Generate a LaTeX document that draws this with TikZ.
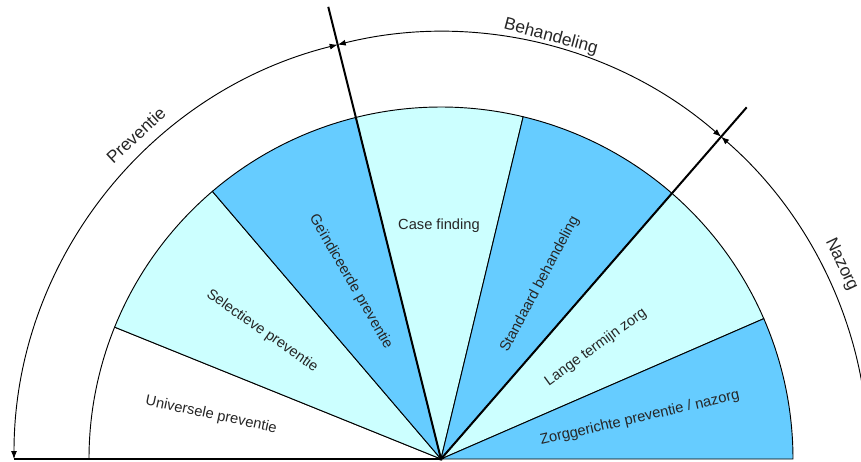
\documentclass[tikz,border=0pt]{standalone}
\usepackage{fontspec}
\setmainfont{Liberation Sans}
\usetikzlibrary{arrows.meta}
\definecolor{lichtblauw}{HTML}{CCFFFF}
\definecolor{blauw}{HTML}{66CCFF}

\tikzset{sector/.style = {draw, line width=0.7pt},
         scheiding/.style = {line width=1.5pt},
         fase/.style = {line width=0.7pt, {Latex[length=6pt,width=4.5pt]}-{Latex[length=6pt,width=4.5pt]}},
         faselabel/.style = {font=\fontsize{13}{16}\selectfont, text=black!85, inner sep=0pt},
         sectorlabel/.style = {font=\fontsize{11}{13}\selectfont, text=black!85, inner sep=0pt}
        }

\begin{document}
\begin{tikzpicture}[x=0.75pt, y=0.75pt]
\useasboundingbox (-441,-2) rectangle (420,459);
\coordinate (o) at (0,0);
\foreach \a/\b/\kleur in {180/158/white, 158/130.5/lichtblauw, 130.5/104/blauw, 104/76.5/lichtblauw, 76.5/49/blauw, 49/23.5/lichtblauw, 23.5/0/blauw}
   \filldraw[sector, fill=\kleur] (o) -- (\a:352) arc (\a:\b:352) -- cycle;
\foreach \n/\a/\r in {links/180/427, grens1/104/466, grens2/49/466}
   {\coordinate (\n) at (\a:\r);
    \draw[scheiding] (o) -- (\n);};
\foreach \a/\b in {180/104, 104/49, 49/0}
   \draw[fase] (\a:427) arc (\a:\b:427);
\foreach \n/\a/\r/\rot/\t in {preventie/133.3/445/43/Preventie, behandeling/75.4/436/-15/Behandeling, nazorg/25.9/445/-64.6/Nazorg}
   \node[faselabel, rotate=\rot] (\n) at (\a:\r) {\t};
\foreach \n/\a/\r/\rot/\t in {universeel/169.2/234/-12/Universele preventie, selectief/144.4/220/-35/Selectieve preventie, geindiceerd/117/199/-60/Geïndiceerde preventie, casefinding/90.5/233/0/Case finding, standaard/60.5/201/62/Standaard behandeling, langetermijn/35.8/191/36/Lange termijn zorg, zorggericht/11.6/203/13/{Zorggerichte preventie / nazorg}}
   \node[sectorlabel, rotate=\rot] (\n) at (\a:\r) {\t};
\end{tikzpicture}
\end{document}
